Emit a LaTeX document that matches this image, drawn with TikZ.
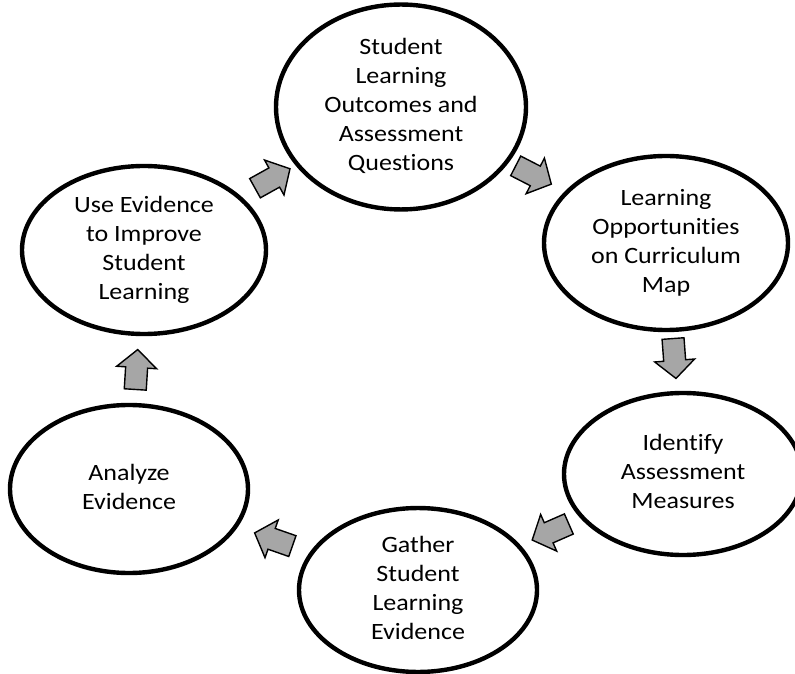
\documentclass[tikz,border=0pt]{standalone}
\usepackage{fontspec}
\setmainfont{Carlito}[Ligatures={NoCommon,NoRequired,NoContextual},Contextuals={NoAlternate}]
\usepackage{graphicx}
\usetikzlibrary{shapes.geometric,calc}
\newcommand\eltext[1]{\scalebox{1}[0.9]{\fontsize{26}{32.2}\selectfont\begin{tabular}{@{}c@{}}#1\end{tabular}}}
\begin{document}
\begin{tikzpicture}[x=1pt,y=1pt,
  stage/.style={ellipse,draw=black,line width=4.4pt,fill=white,inner sep=0pt},
  flowarrow/.style={draw=black,line width=1.4pt,fill=arrowgray,line join=miter}]
\definecolor{arrowgray}{HTML}{A6A6A6}
\useasboundingbox (0,0) rectangle (795,673);
\node[stage,minimum width=250pt,minimum height=186pt] (top)  at (401,566) {\eltext{Student\\Learning\\Outcomes and\\Assessment\\Questions}};
\node[stage,minimum width=244pt,minimum height=174pt] (opp)  at (666,430) {\eltext{Learning\\Opportunit\kern0pt ies\\on Curriculum\\Map}};
\node[stage,minimum width=238pt,minimum height=162pt] (meas) at (683,199) {\eltext{Identif\kern0pt y\\Assessment\\Measures}};
\node[stage,minimum width=238pt,minimum height=158pt] (gath) at (418,83)  {\eltext{Gather\\Student\\Learning\\Evidence}};
\node[stage,minimum width=238pt,minimum height=168pt] (anal) at (129,184) {\eltext{Analyze\\Evidence}};
\node[stage,minimum width=244pt,minimum height=168pt] (use)  at (144,423) {\eltext{Use Evidence\\to Improve\\Student\\Learning}};
\foreach \a/\b in {use/top,top/opp,opp/meas,meas/gath,gath/anal,anal/use}{
  \draw[flowarrow] let \p1=($(\b)-(\a)$), \n1={atan2(\y1,\x1)}, \p2=($(\a)!0.5!(\b)$) in
    ($(\p2)+(\n1+180:20)+(\n1+90:11)$) -- ($(\p2)+(\n1:2)+(\n1+90:11)$) --
    ($(\p2)+(\n1:2)+(\n1+90:20)$) -- ($(\p2)+(\n1:20)$) --
    ($(\p2)+(\n1:2)+(\n1-90:20)$) -- ($(\p2)+(\n1:2)+(\n1-90:11)$) --
    ($(\p2)+(\n1+180:20)+(\n1-90:11)$) -- cycle;
}
\end{tikzpicture}
\end{document}
